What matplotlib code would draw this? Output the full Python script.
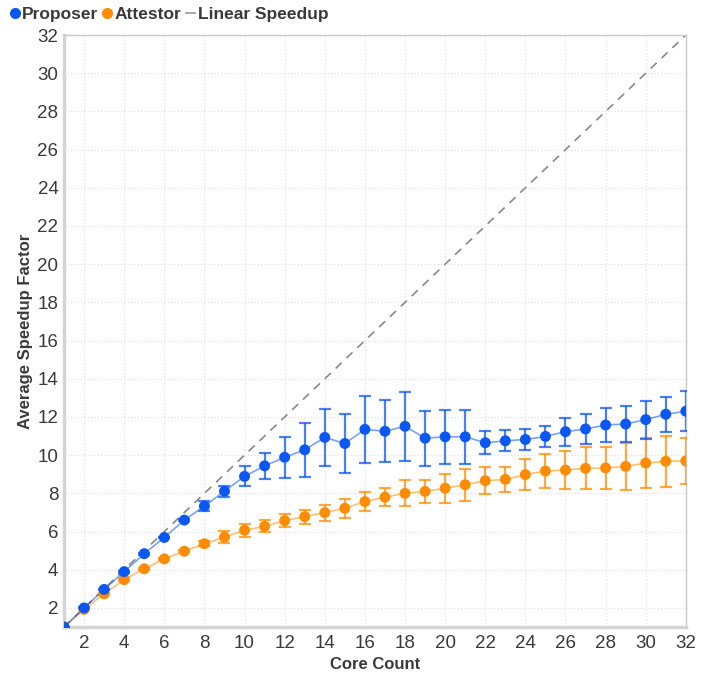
import numpy as np
import matplotlib.pyplot as plt
from matplotlib.lines import Line2D

plt.rcParams['font.family'] = ['Liberation Sans', 'DejaVu Sans']

# Core counts
cores = list(range(1, 33))

# Proposer mean speedup and std
proposer = [1.0, 2.0, 2.97, 3.9, 4.84, 5.69, 6.6, 7.33, 8.11, 8.89, 9.44, 9.89,
            10.28, 10.93, 10.61, 11.35, 11.25, 11.51, 10.89, 10.96, 10.96, 10.65,
            10.75, 10.82, 10.98, 11.23, 11.37, 11.58, 11.63, 11.86, 12.14, 12.3]
proposer_err = [0.0, 0.03, 0.04, 0.05, 0.05, 0.05, 0.05, 0.27, 0.28, 0.52, 0.69, 1.08,
                1.4, 1.51, 1.53, 1.74, 1.62, 1.81, 1.44, 1.41, 1.41, 0.61,
                0.55, 0.53, 0.56, 0.74, 0.78, 0.9, 0.95, 1.0, 0.92, 1.06]

# Attestor mean speedup and std
attestor = [1.0, 1.92, 2.74, 3.48, 4.05, 4.57, 4.97, 5.36, 5.71, 6.07, 6.27, 6.57,
            6.78, 6.99, 7.22, 7.57, 7.8, 8.0, 8.1, 8.27, 8.45, 8.66,
            8.73, 8.98, 9.17, 9.22, 9.31, 9.33, 9.41, 9.59, 9.68, 9.7]
attestor_err = [0.0, 0.03, 0.04, 0.05, 0.05, 0.05, 0.05, 0.12, 0.32, 0.35, 0.32, 0.34,
                0.37, 0.42, 0.51, 0.52, 0.47, 0.68, 0.6, 0.75, 0.83, 0.7,
                0.67, 0.82, 0.89, 1.0, 1.1, 1.09, 1.21, 1.31, 1.33, 1.22]

ticks = list(range(2, 33, 2))

BLUE = '#0b57f2'
ORANGE = '#ff8c00'
TXT = '#3a3a3a'

fig = plt.figure(figsize=(7.25, 6.84), dpi=100)
ax = fig.add_axes([0.0883, 0.0833, 0.8577, 0.8655])

# linear speedup reference
ax.plot([1, 32], [1, 32], linestyle=(0, (5, 4)), color='#888888', lw=1.2, zorder=1)

for ys, es, c in [(attestor, attestor_err, ORANGE), (proposer, proposer_err, BLUE)]:
    ax.plot(cores, ys, color=c, lw=1.2, alpha=0.55, zorder=2)
    ax.errorbar(cores, ys, yerr=es, fmt='none', ecolor=c, elinewidth=1.6,
                capsize=4, capthick=1.6, alpha=0.75, zorder=3)
    ax.scatter(cores, ys, s=62, color=c, zorder=4, edgecolors='none')

ax.set_xlim(1, 32)
ax.set_ylim(1, 32)
ax.set_xticks(ticks)
ax.set_yticks(ticks)
ax.tick_params(axis='y', length=0, labelsize=13.5, labelcolor=TXT, pad=4)
ax.tick_params(axis='x', length=0, labelsize=13.5, labelcolor=TXT, pad=6)
ax.grid(True, linestyle=(0, (1, 2)), color='#dddddd', lw=0.8)
ax.set_axisbelow(True)
for s in ax.spines.values():
    s.set_color('#c8c8c8')
    s.set_linewidth(1.0)
ax.spines['left'].set_linewidth(2.5)
ax.spines['bottom'].set_linewidth(2.5)
ax.spines['left'].set_color('#d4d4d4')
ax.spines['bottom'].set_color('#d4d4d4')

ax.set_xlabel('Core Count', fontsize=12, fontweight='bold', color=TXT, labelpad=3)
ax.set_ylabel('Average Speedup Factor', fontsize=12, fontweight='bold', color=TXT, labelpad=3)

handles = [
    Line2D([], [], marker='o', color=BLUE, lw=0, markersize=7),
    Line2D([], [], marker='o', color=ORANGE, lw=0, markersize=7),
    Line2D([], [], color='#999999', lw=1.2),
]
leg = fig.legend(handles, ['Proposer', 'Attestor', 'Linear Speedup'], loc='upper left',
                 bbox_to_anchor=(0.0, 1.005), ncol=3, frameon=False, handlelength=0.5,
                 handletextpad=0.15, columnspacing=0.3, borderaxespad=0.2,
                 prop={'size': 12.5, 'weight': 'bold'})
for t in leg.get_texts():
    t.set_color(TXT)

fig.savefig('out.png', dpi=100)
